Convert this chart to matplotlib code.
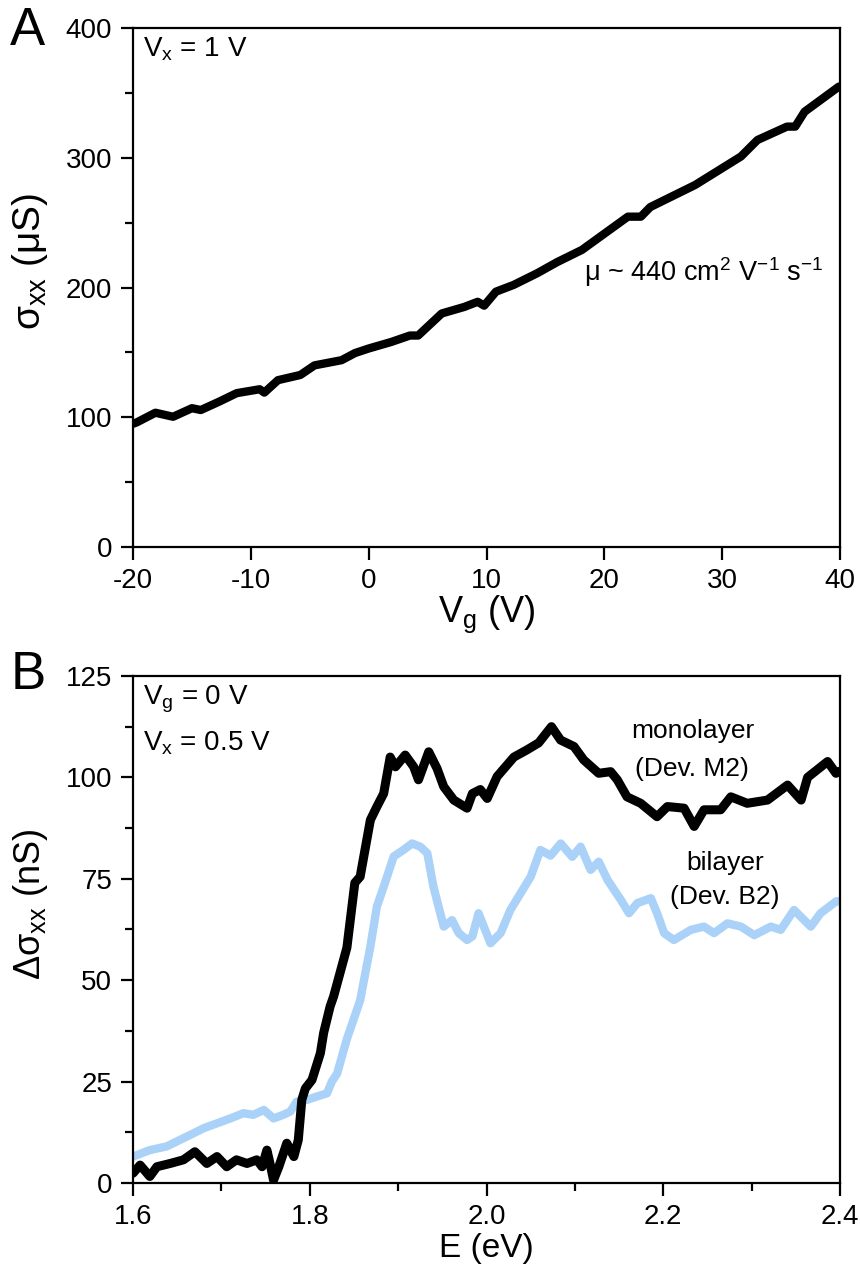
import matplotlib
matplotlib.use('Agg')
import matplotlib.pyplot as plt
from matplotlib.ticker import MultipleLocator

plt.rcParams['font.family'] = ['Liberation Sans', 'DejaVu Sans']
plt.rcParams['mathtext.fontset'] = 'custom'
plt.rcParams['mathtext.rm'] = 'Liberation Sans'
plt.rcParams['mathtext.it'] = 'Liberation Sans:italic'
plt.rcParams['mathtext.bf'] = 'Liberation Sans:bold'
plt.rcParams['axes.unicode_minus'] = False

# panel A: conductivity vs gate voltage
vg = [-20.0, -19.7, -18.1, -16.6, -15.0, -14.25, -12.7, -11.2, -9.25, -8.86,
      -7.7, -5.8, -4.6, -2.3, -1.16, 0.0, 1.9, 3.5, 4.2, 6.2, 8.1, 9.25, 9.8,
      10.8, 12.3, 14.3, 16.0, 18.1, 22.0, 23.1, 23.9, 27.7, 31.6, 33.0, 35.5,
      36.2, 37.0, 39.9, 40.0]
sigma = [95, 96, 103.5, 100.4, 107, 105.6, 112, 118.6, 121.6, 119,
         128.6, 132.6, 140, 144, 149.5, 153, 158, 163, 163, 180, 185, 189, 186,
         196.8, 202, 211, 219.6, 229, 254.6, 254.6, 262, 279, 301, 313.7, 324,
         324, 335.5, 354.8, 355]

# panel B: photoconductivity spectra
e_mono = [1.600, 1.608, 1.619, 1.627, 1.642, 1.657, 1.670, 1.6835, 1.695, 1.706,
          1.717, 1.729, 1.740, 1.746, 1.7515, 1.755, 1.759, 1.765, 1.774, 1.782,
          1.787, 1.791, 1.795, 1.8025, 1.812, 1.8157, 1.823, 1.827, 1.842, 1.851,
          1.857, 1.8686, 1.876, 1.8836, 1.891, 1.897, 1.908, 1.9176, 1.923, 1.9346,
          1.944, 1.9516, 1.963, 1.978, 1.984, 1.993, 2.0008, 2.012, 2.031, 2.046,
          2.059, 2.0735, 2.0838, 2.099, 2.110, 2.127, 2.1405, 2.148, 2.159, 2.1745,
          2.193, 2.2047, 2.2236, 2.235, 2.2462, 2.265, 2.2765, 2.295, 2.318, 2.3407,
          2.356, 2.3634, 2.386, 2.3955, 2.400]
d_mono = [2.4, 4.4, 1.6, 4.0, 4.8, 5.7, 7.7, 4.8, 6.5, 4.0,
          5.7, 4.8, 5.7, 4.0, 8.1, 4.8, 0.7, 4.0, 9.8, 6.5,
          10.6, 20.5, 23.3, 25.4, 32, 37, 43.5, 46, 58, 74,
          75.5, 89.5, 92.8, 96, 105, 102.6, 105.5, 102.6, 99.4, 106.3,
          102.2, 97.7, 94.4, 92.4, 96, 97, 94.8, 100.2, 105, 106.8,
          108.5, 112.5, 109.2, 107.6, 104.3, 101, 101.4, 99.4, 95.2, 93.6,
          90.3, 92.8, 92.4, 87.9, 92, 92, 95.2, 93.6, 94.4, 98.1,
          94.4, 100, 103.9, 101, 101.5]

e_bi = [1.600, 1.619, 1.638, 1.653, 1.668, 1.680, 1.695, 1.710, 1.725, 1.736,
        1.748, 1.759, 1.770, 1.778, 1.785, 1.797, 1.808, 1.8195, 1.825, 1.831,
        1.842, 1.857, 1.8686, 1.876, 1.8836, 1.895, 1.906, 1.9157, 1.925, 1.933,
        1.940, 1.9516, 1.961, 1.9686, 1.978, 1.984, 1.991, 1.997, 2.0045, 2.016,
        2.027, 2.0385, 2.050, 2.061, 2.0725, 2.084, 2.097, 2.1065, 2.1178, 2.127,
        2.137, 2.152, 2.1613, 2.1707, 2.186, 2.193, 2.201, 2.212, 2.2312, 2.246,
        2.2575, 2.2727, 2.288, 2.303, 2.3218, 2.333, 2.348, 2.367, 2.378, 2.3955,
        2.400]
d_bi = [6.5, 8.1, 9.0, 10.6, 12.2, 13.5, 14.7, 15.9, 17.2, 16.8,
        18.0, 15.9, 16.8, 17.6, 20.0, 20.5, 21.3, 22.1, 25, 27,
        35.5, 45, 58.3, 68.2, 73, 80.5, 82.1, 83.7, 82.9, 81.3,
        73, 63.2, 64.8, 61.6, 59.9, 60.8, 66.5, 63.2, 59.1, 61.6,
        67.3, 71.4, 75.5, 82.1, 80.7, 83.7, 80.4, 82.9, 77.2, 79.2,
        74.7, 69.8, 66.5, 69, 70.2, 66.5, 61.6, 59.9, 62.4, 63.2,
        61.6, 64, 63.2, 61.1, 63.2, 62.4, 67.3, 63.2, 66.5, 69.4,
        69.5]

fig = plt.figure(figsize=(8.6, 12.79), dpi=100)
axA = fig.add_axes([0.1547, 0.5723, 0.822, 0.4058])
axB = fig.add_axes([0.1547, 0.0751, 0.822, 0.3964])


def style_axis(ax):
    for s in ax.spines.values():
        s.set_linewidth(1.6)
    ax.tick_params(which='major', direction='out', length=9, width=1.6,
                   labelsize=20, pad=6, top=False, right=False)
    ax.tick_params(which='minor', direction='out', length=5.5, width=1.6,
                   top=False, right=False)


##############################
axA.plot(vg, sigma, color='black', lw=6, solid_capstyle='round',
         solid_joinstyle='round')
axA.set_xlim(-20, 40)
axA.set_ylim(0, 400)
axA.xaxis.set_major_locator(MultipleLocator(10))
axA.yaxis.set_major_locator(MultipleLocator(100))
axA.yaxis.set_minor_locator(MultipleLocator(50))
style_axis(axA)
axA.set_xlabel(r'V$_\mathregular{g}$ (V)', fontsize=26, labelpad=0)
axA.set_ylabel(r'$\mathregular{\sigma_{xx}}$ ($\mathregular{\mu}$S)', fontsize=28)
axA.yaxis.set_label_coords(-0.118, 0.55)
axA.text(0.014, 0.985, r'V$_\mathregular{x}$ = 1 V', transform=axA.transAxes,
         fontsize=20, ha='left', va='top')
axA.text(18.3, 212, r'$\mathregular{\mu}$ ~ 440 cm$^\mathregular{2}$ V$^\mathregular{-1}$ s$^\mathregular{-1}$',
         fontsize=19.5, ha='left', va='center')
fig.text(0.012, 0.995, 'A', fontsize=38, ha='left', va='top')

##############################
axB.plot(e_bi, d_bi, color='#aad1f7', lw=6, solid_capstyle='round',
         solid_joinstyle='round')
axB.plot(e_mono, d_mono, color='black', lw=6.5, solid_capstyle='round',
         solid_joinstyle='round')
axB.set_xlim(1.6, 2.4)
axB.set_ylim(0, 125)
axB.xaxis.set_major_locator(MultipleLocator(0.2))
axB.xaxis.set_minor_locator(MultipleLocator(0.1))
axB.yaxis.set_major_locator(MultipleLocator(25))
axB.yaxis.set_minor_locator(MultipleLocator(12.5))
axB.xaxis.set_major_formatter(plt.FormatStrFormatter('%.1f'))
style_axis(axB)
axB.set_xlabel('E (eV)', fontsize=24, labelpad=2)
axB.set_ylabel(r'$\mathregular{\Delta\sigma_{xx}}$ (nS)', fontsize=26)
axB.yaxis.set_label_coords(-0.118, 0.55)
axB.text(0.014, 0.985, r'V$_\mathregular{g}$ = 0 V', transform=axB.transAxes,
         fontsize=20, ha='left', va='top')
axB.text(0.014, 0.895, r'V$_\mathregular{x}$ = 0.5 V', transform=axB.transAxes,
         fontsize=20, ha='left', va='top')
axB.text(2.233, 111.5, 'monolayer', fontsize=19, ha='center', va='center')
axB.text(2.233, 102, '(Dev. M2)', fontsize=19, ha='center', va='center')
axB.text(2.27, 79, 'bilayer', fontsize=19, ha='center', va='center')
axB.text(2.27, 70.5, '(Dev. B2)', fontsize=19, ha='center', va='center')
fig.text(0.012, 0.492, 'B', fontsize=38, ha='left', va='top')

plt.savefig('out.png', dpi=100)
